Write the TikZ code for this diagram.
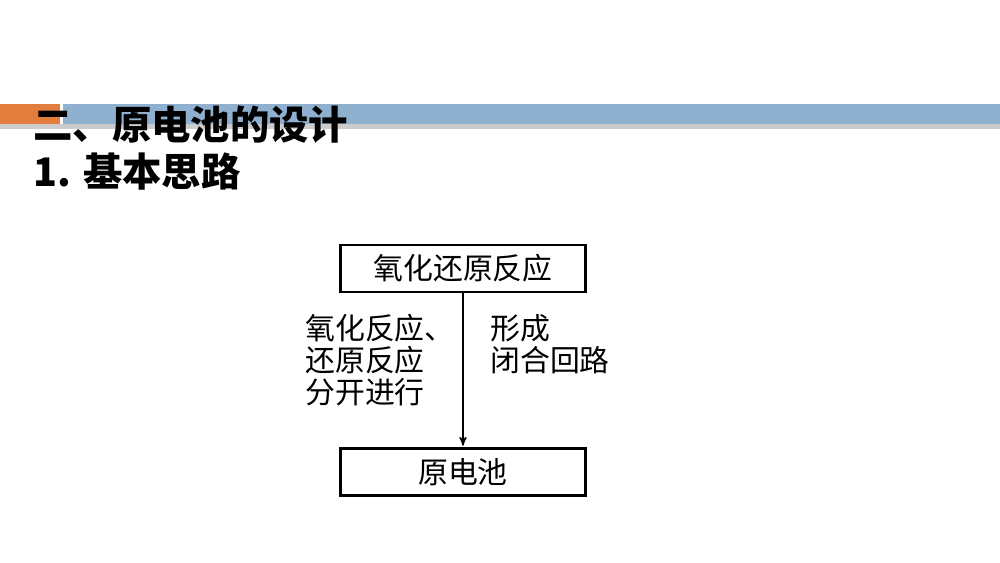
\documentclass[tikz,border=0pt]{standalone}
\usepackage{fontspec}
\setmainfont{Noto Sans CJK SC}
\usetikzlibrary{positioning}
\usetikzlibrary{arrows}
\definecolor{barblue}{RGB}{143,177,207}
\definecolor{barorange}{RGB}{226,125,62}
\tikzset{>=stealth'}
\tikzset{blk/.style={draw, line width=1.2pt, minimum width=4.9cm, minimum height=0.94cm, inner sep=0pt, font=\fontsize{17}{20}\selectfont}}
\tikzset{lbl/.style={align=left, inner sep=0pt, anchor=north west, font=\fontsize{17}{18.2}\selectfont}}
\tikzset{ttl/.style={anchor=west, inner sep=0pt, font=\fontsize{22.4}{24}\selectfont\bfseries}}

\begin{document}
\begin{tikzpicture}[x=0.02cm, y=-0.02cm]
\useasboundingbox (0,0) rectangle (1000,563);

% header bar
\fill[gray!40] (0,124) rectangle (1000,129);
\fill[barorange] (0,104) rectangle (60,124);
\fill[barblue] (63,104) rectangle (1000,124);

\node[ttl] (title) at (33,125) {二、原电池的设计};
\node[ttl] (sub) at (33,172) {1. 基本思路};

\node[blk] (redox) at (463,268.5) {氧化还原反应};
\node[blk] (cell) at (463,472) {原电池};

\draw[->, line width=0.8pt, shorten >=1pt] (redox) -- (cell);

\node[lbl] (split) at (305,314) {氧化反应、\\还原反应\\分开进行};
\node[lbl] (loop) at (490,314) {形成\\闭合回路};

\end{tikzpicture}
\end{document}
